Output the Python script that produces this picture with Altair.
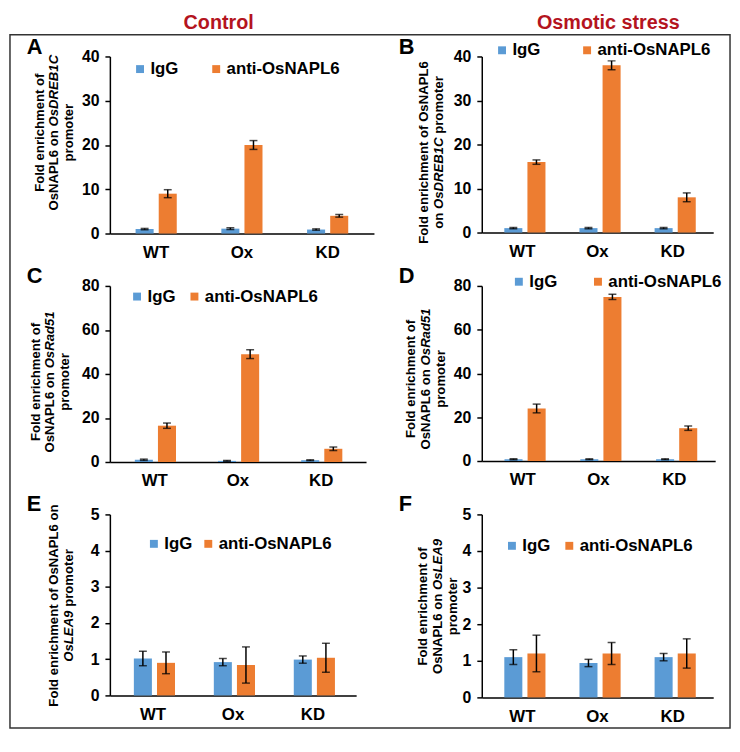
import altair as alt
import pandas as pd

FONT = "Liberation Sans"
groups = ["WT", "Ox", "KD"]
series = ["IgG", "anti-OsNAPL6"]
colors = ["#5B9BD5", "#ED7D31"]
col_titles = ["Control", "Osmotic stress"]
title_color = "#B4141E"

# Panel A: Control, OsDREB1C
a_igg = [1.0, 1.1, 0.9]
a_igg_err = [0.15, 0.2, 0.15]
a_anti = [9.0, 20.0, 4.0]
a_anti_err = [0.9, 1.0, 0.3]
# Panel B: Osmotic stress, OsDREB1C
b_igg = [1.0, 1.0, 1.0]
b_igg_err = [0.15, 0.15, 0.15]
b_anti = [16.0, 38.0, 8.0]
b_anti_err = [0.5, 1.0, 1.0]
# Panel C: Control, OsRad51
c_igg = [1.0, 0.5, 0.8]
c_igg_err = [0.3, 0.2, 0.2]
c_anti = [16.5, 49.0, 6.0]
c_anti_err = [1.2, 2.0, 0.8]
# Panel D: Osmotic stress, OsRad51
d_igg = [0.8, 0.8, 0.8]
d_igg_err = [0.2, 0.2, 0.2]
d_anti = [24.0, 75.0, 15.0]
d_anti_err = [2.0, 1.2, 1.0]
# Panel E: Control, OsLEA9
e_igg = [1.02, 0.92, 0.99]
e_igg_err = [0.2, 0.1, 0.1]
e_anti = [0.90, 0.84, 1.04]
e_anti_err = [0.3, 0.5, 0.4]
# Panel F: Osmotic stress, OsLEA9
f_igg = [1.1, 0.94, 1.1]
f_igg_err = [0.2, 0.1, 0.1]
f_anti = [1.2, 1.2, 1.2]
f_anti_err = [0.5, 0.3, 0.4]

ticks_40 = [0, 10, 20, 30, 40]
ticks_80 = [0, 20, 40, 60, 80]
ticks_5 = [0, 1, 2, 3, 4, 5]

# y-axis titles: lines of (text, italic) segments
title_a = [[("Fold enrichment of", False)],
           [("OsNAPL6 on ", False), ("OsDREB1C", True)],
           [("promoter", False)]]
title_b = [[("Fold enrichment of OsNAPL6", False)],
           [("on ", False), ("OsDREB1C", True), (" promoter", False)]]
title_c = [[("Fold enrichment of", False)],
           [("OsNAPL6 on ", False), ("OsRad51", True)],
           [("promoter", False)]]
title_d = [[("Fold enrichment of", False)],
           [("OsNAPL6 on ", False), ("OsRad51", True)],
           [("promoter", False)]]
title_e = [[("Fold enrichment of OsNAPL6 on", False)],
           [("OsLEA9", True), (" promoter", False)]]
title_f = [[("Fold enrichment of", False)],
           [("OsNAPL6 on ", False), ("OsLEA9", True)],
           [("promoter", False)]]

# Arial / Liberation Sans Bold advance widths (per 1000 em), used to lay out mixed-style titles
CHAR_W = {"F": 611, "o": 611, "l": 278, "d": 611, " ": 278, "e": 556, "n": 611, "r": 389,
          "i": 278, "c": 556, "h": 611, "m": 889, "t": 333, "f": 333, "O": 778, "s": 556,
          "N": 722, "A": 722, "P": 667, "L": 611, "6": 556, "p": 611, "D": 722, "R": 722,
          "E": 667, "B": 722, "1": 556, "C": 722, "a": 556, "5": 556, "9": 556}


def text_width(s, size):
    return sum(CHAR_W.get(ch, 556) for ch in s) * size / 1000.0


def make_df(igg, igg_err, anti, anti_err):
    rows = []
    for s, vals, errs in ((series[0], igg, igg_err), (series[1], anti, anti_err)):
        for g, v, e in zip(groups, vals, errs):
            rows.append({"group": g, "series": s, "value": v, "lo": v - e, "hi": v + e})
    return pd.DataFrame(rows)


def label(text, x, y, size, color="black", align="left", angle=0, baseline="alphabetic",
          style="normal"):
    return alt.Chart(pd.DataFrame({"t": [text]})).mark_text(
        font=FONT, fontSize=size, fontWeight="bold", color=color, fontStyle=style,
        align=align, baseline=baseline, angle=angle
    ).encode(text="t:N", x=alt.value(x), y=alt.value(y))


def y_title(lines, cx, cy, size=13.3, lh=15):
    out = []
    n = len(lines)
    for i, segs in enumerate(lines):
        x = cx + (i - (n - 1) / 2.0) * lh
        full = "".join(t for t, _ in segs)
        y0 = cy + text_width(full, size) / 2.0
        acc = ""
        for t, it in segs:
            lead = len(t) - len(t.lstrip())
            start = y0 - text_width(acc + t[:lead], size)
            out.append(label(t.strip(), x, start, size, angle=270, baseline="middle",
                             style="italic" if it else "normal"))
            acc += t
    return out


def panel(df, letter, domain, ticks, title, tcx, ty, lx, ly, colpad, w, h, extras=()):
    xenc = alt.X("group:N", sort=groups,
                 scale=alt.Scale(paddingInner=0.52, paddingOuter=0.3),
                 axis=alt.Axis(title=None, labelAngle=0, ticks=False,
                               labelPadding=11, labelFontSize=17))
    xoff = alt.XOffset("series:N", sort=series, scale=alt.Scale(paddingInner=0.22))
    yscale = alt.Scale(domain=domain, nice=False)
    yaxis = alt.Axis(values=ticks, title=None, grid=False,
                     tickSize=5, labelPadding=6, labelFontSize=16)
    base = alt.Chart(df)
    bars = base.mark_bar().encode(
        x=xenc, xOffset=xoff,
        y=alt.Y("value:Q", scale=yscale, axis=yaxis),
        color=alt.Color("series:N", sort=series,
                        scale=alt.Scale(domain=series, range=colors),
                        legend=alt.Legend(orient="none", legendX=lx - 4, legendY=ly,
                                          direction="horizontal", title=None,
                                          symbolType="square", symbolSize=64,
                                          symbolStrokeWidth=0, labelFontSize=17,
                                          labelFontWeight="bold", labelFont=FONT,
                                          labelOffset=2, columnPadding=colpad,
                                          padding=0)),
    )
    rules = base.mark_rule(color="black", strokeWidth=1.5).encode(
        x=xenc, xOffset=xoff, y=alt.Y("lo:Q", scale=yscale, axis=yaxis), y2="hi:Q")
    cap_lo = base.mark_tick(color="black", thickness=1.5, size=8).encode(
        x=xenc, xOffset=xoff, y=alt.Y("lo:Q", scale=yscale, axis=yaxis))
    cap_hi = base.mark_tick(color="black", thickness=1.5, size=8).encode(
        x=xenc, xOffset=xoff, y=alt.Y("hi:Q", scale=yscale, axis=yaxis))
    layers = ([bars, rules, cap_lo, cap_hi, label(letter, -84, -3, 22)]
              + y_title(title, tcx, ty) + list(extras))
    return alt.layer(*layers).properties(width=w, height=h)


box = alt.Chart(pd.DataFrame({"b": [1]})).mark_rect(
    fill="transparent", stroke="#333333", strokeWidth=1.5
).encode(x=alt.value(-101), x2=alt.value(627), y=alt.value(-22), y2=alt.value(679))

pA = panel(make_df(a_igg, a_igg_err, a_anti, a_anti_err), "A", [0, 40], ticks_40, title_a,
           -56, 77, 26, 4, 29, 267, 179,
           extras=[label(col_titles[0], 110, -28, 20, title_color, "center"), box])
pB = panel(make_df(b_igg, b_igg_err, b_anti, b_anti_err), "B", [0, 40], ticks_40, title_b,
           -51, 97, 16, -15, 38, 234, 178,
           extras=[label(col_titles[1], 128, -28, 20, title_color, "center")])
pC = panel(make_df(c_igg, c_igg_err, c_anti, c_anti_err), "C", [0, 80], ticks_80, title_c,
           -60, 97, 23, 2, 10, 259, 178)
pD = panel(make_df(d_igg, d_igg_err, d_anti, d_anti_err), "D", [0, 80], ticks_80, title_d,
           -56, 94, 33, -13, 32, 236, 177)
pE = panel(make_df(e_igg, e_igg_err, e_anti, e_anti_err), "E", [0, 5], ticks_5, title_e,
           -49, 92, 40, 21, 7, 249, 183)
pF = panel(make_df(f_igg, f_igg_err, f_anti, f_anti_err), "F", [0, 5], ticks_5, title_f,
           -44, 93, 26, 23, 10, 234, 185)

chart = alt.concat(
    pA, pB, pC, pD, pE, pF, columns=2, bounds="flush", align="each",
    spacing={"row": 53, "column": 109}
).resolve_scale(color="independent").resolve_legend(color="independent").properties(
    padding=0, background="white"
).configure_view(stroke="transparent").configure_axis(
    labelFont=FONT, labelFontWeight="bold", labelColor="black",
    domainColor="black", domainWidth=1.5, tickColor="black", tickWidth=1.5
)

chart.save("out.html", embed_options={"renderer": "svg", "actions": False})
